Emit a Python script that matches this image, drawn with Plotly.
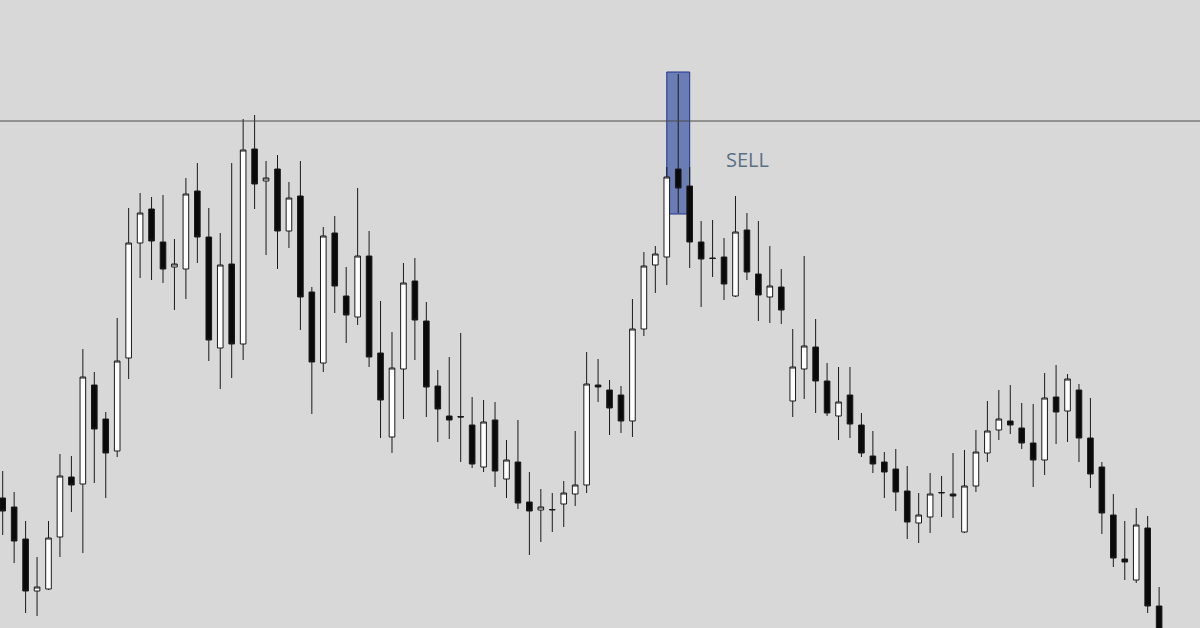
import plotly.graph_objects as go

# Price values (arbitrary units)
opens = [130, 121, 89, 37, 39, 91, 151, 144, 243, 209,
         177, 270, 385, 419, 386, 361, 359, 437, 391, 280,
         364, 284, 479, 447, 459, 397, 432, 336, 265, 395,
         332, 311, 372, 275, 191, 259, 347, 307, 242, 212,
         211.5, 203, 161, 208, 149, 166, 126, 118, 118, 124,
         134, 143, 243, 238, 233, 207, 299, 363, 371, 459,
         442, 386, 370, 371, 332, 398, 354, 331, 341, 227,
         259, 281, 247, 212, 233, 203, 172, 166, 159, 137,
         105, 111, 135, 134, 96, 142, 175, 198, 207, 200,
         185, 168, 231, 217, 238, 190, 161, 113, 69, 48,
         100, 22]
highs = [157, 136, 107, 71, 107, 174, 172, 279, 256, 216,
         310, 420, 435, 431, 433, 389, 450, 465, 420, 395,
         465, 509, 513, 467, 473, 446, 467, 341, 401, 412,
         361, 440, 397, 327, 296, 365, 370, 326, 258, 271,
         295, 231, 228, 226, 188, 208, 156, 139, 135, 147,
         197, 276, 269, 248, 242, 329, 376, 382, 461, 554,
         461, 407, 408, 390, 432, 415, 407, 382, 359, 299,
         372, 309, 265, 261, 261, 215, 197, 176, 179, 162,
         135, 155, 152, 175, 178, 198, 227, 238, 243, 225,
         224, 255, 263, 254, 244, 230, 166, 134, 107, 120,
         112, 41]
lows = [93, 65, 15, 12, 38, 71, 116, 75, 145, 130,
        171, 249, 350, 348, 345, 318, 329, 365, 267, 239,
        250, 268, 419, 373, 359, 380, 298, 214, 256, 315,
        285, 303, 261, 190, 175, 209, 268, 211, 186, 189,
        166, 160, 156, 141, 130, 119, 73, 86, 96, 101,
        122, 135, 226, 193, 195, 191, 292, 335, 343, 415,
        360, 321, 351, 328, 331, 348, 307, 305, 304, 211,
        229, 215, 212, 188, 190, 171, 155, 130, 117, 89,
        85, 95, 111, 110, 95, 136, 166, 188, 194, 179,
        141, 153, 184, 186, 166, 140, 94, 61, 48, 45,
        15, -22]
closes = [117, 87, 37, 41, 90, 152, 143, 251, 199, 175,
          267, 385, 415, 387, 359, 364, 434, 391, 288, 363,
          284, 478, 444, 450, 397, 430, 331, 266, 392, 342,
          313, 372, 271, 228, 260, 345, 308, 241, 219, 208,
          211, 164, 206, 157, 168, 125, 117, 121, 118.5, 135,
          143, 244, 241, 220, 207, 299, 362, 374, 451, 440,
          386, 369, 369.5, 344, 396, 356, 333, 342, 318, 261,
          282, 247, 215, 226, 204, 175, 164, 156, 136, 106,
          113, 134, 135.5, 132, 142, 176, 197, 209, 203, 185,
          168, 230, 216, 249, 190, 154, 115, 70, 66, 103,
          22, -12]
bars = list(range(len(opens)))

resistance_level = 507
signal_bar = 59
signal_text = "SELL"
signal_text_bar = 63
signal_text_price = 469

fig = go.Figure()
fig.add_trace(go.Candlestick(
    x=bars, open=opens, high=highs, low=lows, close=closes,
    increasing=dict(line=dict(color="#1a1a1a", width=1), fillcolor="#ffffff"),
    decreasing=dict(line=dict(color="#1a1a1a", width=1), fillcolor="#0a0a0a"),
    whiskerwidth=0, hoverinfo="skip", showlegend=False,
))

# resistance line
fig.add_shape(type="line", xref="paper", x0=0, x1=1, yref="y",
              y0=resistance_level, y1=resistance_level,
              line=dict(color="#4a4a4a", width=1), layer="above")

# signal box around the signal candle
fig.add_shape(type="rect", xref="x", yref="y",
              x0=signal_bar - 1, x1=signal_bar + 1,
              y0=lows[signal_bar] - 1, y1=highs[signal_bar] + 2,
              fillcolor="rgba(40,70,160,0.62)",
              line=dict(color="rgb(30,50,140)", width=1), layer="below")

fig.add_annotation(x=signal_text_bar, y=signal_text_price, text=signal_text,
                   xanchor="left", yanchor="middle", showarrow=False,
                   font=dict(family="Open Sans, Liberation Sans, sans-serif",
                             size=20, color="#5a7083"))

fig.update_layout(
    width=1200, height=628,
    margin=dict(l=0, r=0, t=0, b=0),
    paper_bgcolor="#d8d8d8", plot_bgcolor="#d8d8d8",
    boxgap=0.3,
    xaxis=dict(range=[-0.236, 104.57], visible=False, showgrid=False,
               rangeslider=dict(visible=False), fixedrange=True),
    yaxis=dict(range=[0, 628], visible=False, showgrid=False, fixedrange=True),
    showlegend=False,
)

fig.write_html(
    "out.html",
    config={"displayModeBar": False},
    post_script="document.body.style.margin='0px';"
                "document.body.style.background='#d8d8d8';",
)
